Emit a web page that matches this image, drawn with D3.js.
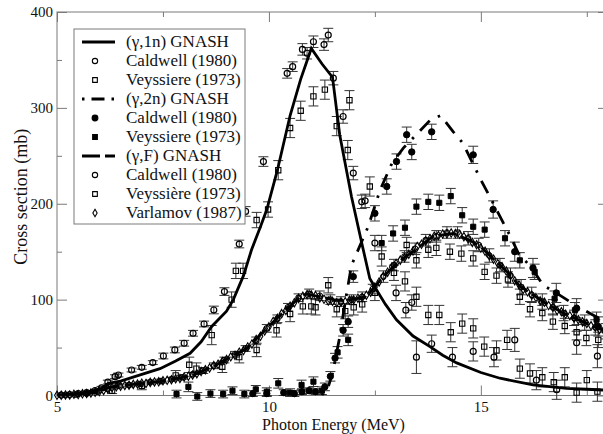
<!DOCTYPE html>
<html><head><meta charset="utf-8">
<script src="https://cdn.jsdelivr.net/npm/d3@7/dist/d3.min.js"></script>
<style>
body{margin:0;background:#fff}
svg{display:block}
svg text{font-family:'Liberation Serif','Tinos','Times New Roman','Times','DejaVu Serif',serif;fill:#111}
</style>
</head><body>
<svg id="c" width="603" height="434"></svg>
<script>
// ---------- DATA ----------
const xTicksMajor = [5, 10, 15];
const xTicksMinor = [7.5, 12.5, 17.5];
const yTicksMajor = [0, 100, 200, 300, 400];
const yTicksMinor = [50, 150, 250, 350];
const xTitle = "Photon Energy (MeV)";
const yTitle = "Cross section (mb)";

// GNASH calculations [E, mb]
const gnash1n = [[5,0.3],[5.5,2],[6,6],[6.21,12.7],[6.5,15],[7.0,22],[7.43,28],[7.8,36],[8.14,44],[8.4,56],[8.65,72],[9.0,88],[9.16,100],[9.4,125],[9.59,152],[9.8,176],[9.95,194],[10.2,235],[10.5,292],[10.75,330],[11.0,362],[11.25,346],[11.5,332],[11.67,272],[11.95,207],[12.19,159],[12.38,122],[12.54,110],[12.75,95],[13.01,79],[13.4,62],[13.8,51],[14.1,42],[14.43,34],[15.0,24],[15.45,18],[16.23,11],[17.02,7.5],[17.5,6.5],[18,5.5]];
const gnash2n = [[11.25,0],[11.4,9],[11.5,23],[11.67,61],[11.8,98],[11.95,136],[12.34,176],[12.62,214],[12.9,242],[13.17,258],[13.5,273],[13.8,287],[14.05,292],[14.35,275],[14.58,263],[14.81,242],[15.0,225],[15.25,204],[15.53,180],[15.72,164],[15.9,147],[16.19,134],[16.47,115],[16.78,107],[17.2,95],[17.6,85],[18,76]];
const gnashF = [[5,0],[5.5,1],[6,4],[6.25,9],[6.5,10],[7.04,12.7],[7.5,15],[8.2,21],[8.77,32],[9.0,38],[9.47,49],[9.95,70],[10.2,81],[10.5,93],[10.73,103],[10.89,106],[11.2,103],[11.52,100],[11.8,99],[12.3,103],[12.62,120],[13.01,138],[13.33,148],[13.87,166],[14.35,169],[14.74,162],[15.0,155],[15.21,146],[15.6,130],[15.92,114],[16.2,106],[16.5,97],[16.94,86],[17.4,77],[17.88,68],[18,66]];

// Measurements [E, mb, error]
const caldwell1n = [[5.1,0.5,1],[5.3,1,1],[5.5,2,1],[5.7,3,1],[5.9,5,1],[6.05,8,1.5],[6.2,14,2],[6.37,19.6,2],[6.45,21.4,2],[6.76,26.6,2],[7.0,29.4,2],[7.26,34.3,2],[7.51,41.2,3],[7.78,47.5,3],[8.0,54.5,3],[8.21,64.9,3],[8.47,74.6,3],[8.7,89.2,4],[8.95,108.4,4],[9.3,158,4],[9.45,192,5],[9.87,244,5],[10.43,336,5],[10.56,343,5],[10.79,361,6],[10.9,357,6],[11.05,369,6],[11.3,366,6],[11.4,376,7],[11.52,331,7],[11.75,291,7],[11.99,232,7],[12.19,202,7],[12.27,203,7],[12.5,159,8],[13.0,107,8],[13.23,89,8],[13.37,97,8],[13.48,40,17],[13.84,54,9],[14.33,40,10],[14.82,46,10],[15.31,40,10],[15.8,58,12],[16.31,16,10],[16.79,6,10],[17.26,55,12],[17.75,41,12]];
const veyssiere1n = [[8.65,63,10],[9.12,100,8],[9.22,130,8],[9.39,130,8],[9.71,183,8],[9.98,194,8],[10.22,235,10],[10.5,279,10],[10.75,297,10],[11.05,312,10],[11.32,319,10],[11.6,281,10],[11.86,256,10],[11.9,308,10],[12.38,218,10],[12.66,145,10],[13.21,119,10],[13.48,103,10],[13.76,84,10],[14.02,84,10],[14.29,66,10],[14.56,75,10],[14.82,70,10],[15.08,51,10],[15.37,47,10],[15.62,58,10],[15.92,28,10],[16.16,23,10],[16.45,19,10],[16.72,14,10],[16.98,19,10],[17.26,3,10],[17.5,16,10],[17.75,4,10]];
const caldwell2n = [[9.62,2,3],[9.95,2,3],[10.35,3,3],[10.6,2,3],[10.78,4,3],[10.95,5,3],[11.1,4,3],[11.32,9,4],[11.45,20,5],[11.56,39,5],[11.75,68,6],[11.87,77,6],[11.99,124,6],[12.5,190,8],[12.78,218,8],[13.01,244,8],[13.25,272,8],[13.37,254,8],[13.84,275,8],[14.82,251,9],[15.29,194,9],[15.8,150,10],[16.23,133,10],[16.78,107,10],[17.26,91,10],[17.77,72,10]];
const veyssiere2n = [[7.82,1.5,4],[8.1,9,5],[8.31,-1,4],[8.62,2,4],[8.92,1.5,4],[9.14,5,4],[9.42,1.5,4],[9.69,6.4,4],[9.95,4,4],[10.22,12.7,5],[10.5,3,4],[10.77,11,5],[11.05,14.4,5],[11.25,5,4],[11.62,45,6],[11.87,58,6],[12.66,159,8],[12.93,169,8],[13.21,175,8],[13.48,197,8],[13.76,202,8],[14.02,201,8],[14.29,208,8],[14.56,188,8],[14.82,176,8],[15.09,173,8],[15.57,164,8],[15.92,141,8],[16.27,129,8],[16.74,101,8],[17.22,89,8],[17.73,79,8]];
const caldwellF = [[5.2,0.5,1],[5.45,1,1],[5.7,2,1],[5.95,4,1],[6.2,7,1.5],[6.45,10,2],[6.7,11,2],[6.95,12,2],[7.2,14,2],[7.45,15,2],[7.7,17,2],[7.95,19,2],[8.2,22,2],[8.45,26,3],[8.7,31,3],[8.95,37,3],[9.2,43,3],[9.45,49,3],[9.7,57,4],[9.95,70,4],[10.2,80,4],[10.45,92,4],[10.7,102,4],[10.95,106,5],[11.2,104,5],[11.45,100,5],[11.7,98,5],[11.95,100,5],[12.2,103,5],[12.45,111,5],[12.7,124,6],[12.95,136,6],[13.2,145,6],[13.45,153,6],[13.7,162,6],[13.95,166,6],[14.2,170,6],[14.45,170,6],[14.7,164,7],[14.95,157,7],[15.2,146,7],[15.45,136,7],[15.7,125,8],[15.95,113,8],[16.2,105,8],[16.45,98,8],[16.7,92,8],[16.95,86,8],[17.2,81,8],[17.45,76,8],[17.7,71,8],[17.95,67,8]];
const veyssiereF = [[6.3,5,3],[7.0,10,4],[7.8,21,5],[8.12,32,8],[8.29,28,6],[8.9,30,6],[9.3,40,6],[9.71,47.5,7],[10.18,68,7],[10.5,85,8],[10.8,93,8],[11.0,93,8],[11.1,92,8],[11.4,115,8],[11.6,90,8],[11.8,88,8],[12.0,92,8],[12.2,95,8],[12.5,107,8],[12.95,128,8],[13.25,157,8],[13.48,141,8],[13.76,152,8],[13.95,154,8],[14.27,150,8],[14.54,148,8],[14.82,143,8],[15.09,129,8],[15.37,125,8],[15.64,121,8],[15.92,103,8],[16.16,90,8],[16.45,86,8],[16.7,77,8],[16.98,72.5,8],[17.26,66,8],[17.49,60,8],[17.77,58,8]];
const varlamovF = [[5.0,0.2],[5.1,0.3],[5.2,0.6],[5.3,0.5],[5.4,1.2],[5.5,1.0],[5.6,1.8],[5.7,2.2],[5.8,2.6],[5.9,3.4],[6.0,4.1],[6.1,5.3],[6.2,6.8],[6.3,8.4],[6.4,9.2],[6.5,9.6],[6.6,10.5],[6.7,10.8],[6.8,11.6],[6.9,11.9],[7.0,12.8],[7.1,12.6],[7.2,13.7],[7.3,14.1],[7.4,14.3],[7.5,15.4],[7.6,15.8],[7.7,16.5],[7.8,17.4],[7.9,17.8],[8.0,19.2],[8.1,20.1],[8.2,21.3],[8.3,22.6],[8.4,25.1],[8.5,26.8],[8.6,28.7],[8.7,31.2],[8.8,32.6],[8.9,35.4],[9.0,37.5],[9.1,40.3],[9.2,41.8],[9.3,45.2],[9.4,46.9],[9.5,50.6],[9.6,53.8],[9.7,58.4],[9.8,61.7],[9.9,67.3],[10.0,71.6],[10.1,77.2],[10.2,80.5],[10.3,85.4],[10.4,88.7],[10.5,93.2],[10.6,96.8],[10.7,101.3],[10.8,103.6],[10.9,105.4],[11.0,104.8],[11.1,104.2],[11.2,101.7],[11.3,100.4],[11.4,98.6],[11.5,98.2],[11.6,96.7],[11.7,97.3],[11.8,97.9],[11.9,99.4],[12.0,99.8],[12.1,101.5],[12.2,101.9],[12.3,104.6],[12.4,107.8],[12.5,113.2],[12.6,118.5],[12.7,124.3],[12.8,128.6],[12.9,134.1],[13.0,137.7],[13.1,141.2],[13.2,143.6],[13.3,147.3],[13.4,150.8],[13.5,155.4],[13.6,157.7],[13.7,161.2],[13.8,163.5],[13.9,166.1],[14.0,166.8],[14.1,168.4],[14.2,168.7],[14.3,169.5],[14.4,168.9],[14.5,168.2],[14.6,165.7],[14.7,163.4],[14.8,159.6],[14.9,157.3],[15.0,153.8],[15.1,150.4],[15.2,145.7],[15.3,142.2],[15.4,137.6],[15.5,134.3],[15.6,129.8],[15.7,125.1],[15.8,119.6],[15.9,115.4],[16.0,110.7],[16.1,108.2],[16.2,104.6],[16.3,102.1],[16.4,98.7],[16.5,97.2],[16.6,93.8],[16.7,92.1],[16.8,88.6],[16.9,87.3],[17.0,84.7],[17.1,83.2],[17.2,80.6],[17.3,79.1],[17.4,76.8],[17.5,75.2],[17.6,72.7],[17.7,71.4],[17.8,68.8],[17.9,68.1],[18.0,65.9]];

const legendLabels = ["(\u03b3,1n) GNASH","Caldwell (1980)","Veyssiere (1973)","(\u03b3,2n) GNASH","Caldwell (1980)","Veyssiere (1973)","(\u03b3,F) GNASH","Caldwell (1980)","Veyssi\u00e8re (1973)","Varlamov (1987)"];

// ---------- CHART ----------
const FONT = "'Liberation Serif','Tinos','Times New Roman','Times','DejaVu Serif',serif";
const svg = d3.select("#c");
const x = d3.scaleLinear().domain([5, 18]).range([57, 608]);
const y = d3.scaleLinear().domain([0, 400]).range([395.5, 12]);
const axisColor = "#7a7a7a";

svg.append("defs").append("clipPath").attr("id","plot")
  .append("rect").attr("x",57).attr("y",12).attr("width",551).attr("height",383.5);

function styleAxis(g){
  g.attr("font-family", FONT);
  g.select(".domain").remove();
  g.selectAll(".tick line").attr("stroke",axisColor).attr("stroke-width",1);
  g.selectAll("text").attr("font-size",15).attr("fill","#111").attr("font-family",FONT);
}
const ax = svg.append("g");
ax.append("g").attr("transform",`translate(0,${y(0)})`)
  .call(d3.axisBottom(x).tickValues(xTicksMajor).tickSize(-10).tickPadding(6).tickFormat(d3.format("d"))).call(styleAxis);
ax.append("g").attr("transform",`translate(0,${y(0)})`)
  .call(d3.axisBottom(x).tickValues(xTicksMinor).tickSize(-5).tickFormat("")).call(styleAxis);
ax.append("g").attr("transform",`translate(0,${y(400)})`)
  .call(d3.axisTop(x).tickValues(xTicksMajor).tickSize(-10).tickFormat("")).call(styleAxis);
ax.append("g").attr("transform",`translate(0,${y(400)})`)
  .call(d3.axisTop(x).tickValues(xTicksMinor).tickSize(-5).tickFormat("")).call(styleAxis);
ax.append("g").attr("transform",`translate(${x(5)},0)`)
  .call(d3.axisLeft(y).tickValues(yTicksMajor).tickSize(-10).tickPadding(4).tickFormat(d3.format("d"))).call(styleAxis);
ax.append("g").attr("transform",`translate(${x(5)},0)`)
  .call(d3.axisLeft(y).tickValues(yTicksMinor).tickSize(-5).tickFormat("")).call(styleAxis);
ax.append("g").attr("transform",`translate(${x(18)},0)`)
  .call(d3.axisRight(y).tickValues(yTicksMajor).tickSize(-10).tickFormat("")).call(styleAxis);
ax.append("g").attr("transform",`translate(${x(18)},0)`)
  .call(d3.axisRight(y).tickValues(yTicksMinor).tickSize(-5).tickFormat("")).call(styleAxis);

svg.append("rect").attr("x",x(5)).attr("y",y(400)).attr("width",x(18)-x(5)).attr("height",y(0)-y(400))
  .attr("fill","none").attr("stroke",axisColor).attr("stroke-width",1);

// axis titles
svg.append("text").attr("x",(x(5)+x(18))/2 + 1).attr("y",430.3).attr("text-anchor","middle")
  .attr("font-family",FONT).attr("font-size",16).text(xTitle);
svg.append("text").attr("transform",`translate(26.5,${(y(0)+y(400))/2 - 7}) rotate(-90)`)
  .attr("text-anchor","middle").attr("font-family",FONT).attr("font-size",18).text(yTitle);

// ---------- marks ----------
const plot = svg.append("g");
function errorBars(data){
  plot.append("g").selectAll("path").data(data).join("path")
    .attr("d", d => {
      const cx = x(d[0]), y1 = y(d[1]-d[2]), y2 = y(d[1]+d[2]);
      return `M${cx},${y1}V${y2}M${cx-5},${y1}H${cx+5}M${cx-5},${y2}H${cx+5}`;
    })
    .attr("stroke","#333").attr("stroke-width",1).attr("fill","none");
}
function markers(data, type, size, filled, sw){
  plot.append("g").selectAll("path").data(data).join("path")
    .attr("transform", d => `translate(${x(d[0])},${y(d[1])})`)
    .attr("d", d3.symbol().type(type).size(size))
    .attr("fill", filled ? "#000" : "none")
    .attr("stroke","#000").attr("stroke-width", sw);
}

[caldwell1n, veyssiere1n, caldwell2n, veyssiere2n, caldwellF, veyssiereF].forEach(errorBars);
markers(varlamovF, d3.symbolDiamond, 20, false, 1.1);
markers(caldwellF, d3.symbolCircle, 24, false, 1.1);
markers(veyssiereF, d3.symbolSquare, 28, false, 1.1);
markers(caldwell1n, d3.symbolCircle, 28, false, 1.2);
markers(veyssiere1n, d3.symbolSquare, 28, false, 1.1);
markers(caldwell2n, d3.symbolCircle, 32, true, 1);
markers(veyssiere2n, d3.symbolSquare, 26, true, 1);

const line = d3.line().x(d => x(d[0])).y(d => y(d[1]));
const lines = svg.append("g").attr("clip-path","url(#plot)");
lines.append("path").datum(gnashF).attr("d",line).attr("fill","none").attr("stroke","#000")
  .attr("stroke-width",2.8).attr("stroke-dasharray","18,5");
lines.append("path").datum(gnash2n).attr("d",line).attr("fill","none").attr("stroke","#000")
  .attr("stroke-width",2.8).attr("stroke-dasharray","2.5,9,14,9");
lines.append("path").datum(gnash1n).attr("d",line).attr("fill","none").attr("stroke","#000")
  .attr("stroke-width",2.8);

// ---------- legend ----------
const lg = svg.append("g");
lg.append("rect").attr("x",74).attr("y",29).attr("width",171).attr("height",195)
  .attr("fill","#fff").attr("stroke",axisColor).attr("stroke-width",1);
const rowY = i => 42 + i*19;
const legendSym = [
  {kind:"line", dash:null},
  {kind:"sym", type:d3.symbolCircle, size:22, fill:false},
  {kind:"sym", type:d3.symbolSquare, size:22, fill:false},
  {kind:"line", dash:"2.5,7,13,7"},
  {kind:"sym", type:d3.symbolCircle, size:26, fill:true},
  {kind:"sym", type:d3.symbolSquare, size:22, fill:true},
  {kind:"line", dash:"18,5"},
  {kind:"sym", type:d3.symbolCircle, size:22, fill:false},
  {kind:"sym", type:d3.symbolSquare, size:22, fill:false},
  {kind:"sym", type:d3.symbolDiamond, size:16, fill:false}
];
legendSym.forEach((s,i) => {
  const yy = rowY(i);
  if (s.kind === "line") {
    lg.append("line").attr("x1",82).attr("x2",115).attr("y1",yy).attr("y2",yy)
      .attr("stroke","#000").attr("stroke-width",2.8).attr("stroke-dasharray",s.dash);
  } else {
    lg.append("path").attr("transform",`translate(95,${yy})`)
      .attr("d", d3.symbol().type(s.type).size(s.size)())
      .attr("fill", s.fill ? "#000" : "none").attr("stroke","#000").attr("stroke-width",1.1);
  }
  lg.append("text").attr("x",126).attr("y",yy+5).attr("font-family",FONT).attr("font-size",17).text(legendLabels[i]);
});
</script>
</body></html>
